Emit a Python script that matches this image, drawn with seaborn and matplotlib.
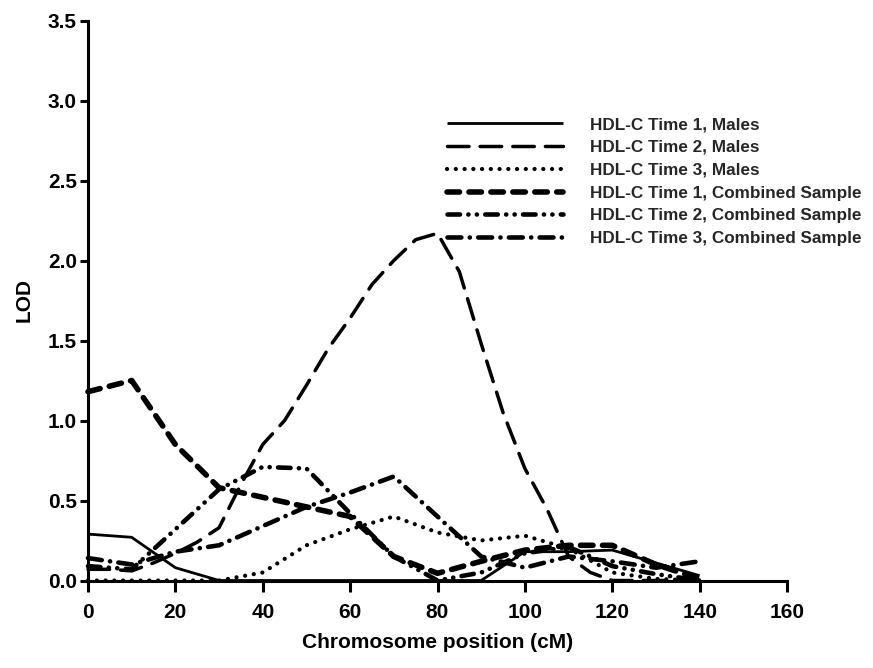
# LOD score profiles along the chromosome
import matplotlib
matplotlib.use("Agg")
import matplotlib.pyplot as plt
import seaborn as sns

# Data
positions = [0, 10, 20, 30, 40, 50, 60, 70, 80, 90, 100, 110, 120, 130, 140]
time2_males_positions = [0, 5, 10, 15, 20, 25, 30, 35, 40, 45, 50, 55, 60, 65, 70,
                         75, 80, 85, 90, 95, 100, 105, 110, 115, 120, 130, 140]

time1_males = [0.29, 0.27, 0.08, 0.0, 0.0, 0.0, 0.0, 0.0, 0.0, 0.0, 0.18, 0.18, 0.19, 0.11, 0.03]
time2_males = [0.07, 0.07, 0.06, 0.11, 0.17, 0.24, 0.33, 0.6, 0.85, 1.0, 1.22, 1.45, 1.64, 1.85, 2.0,
               2.13, 2.17, 1.93, 1.48, 1.05, 0.7, 0.45, 0.15, 0.05, 0.0, 0.0, 0.0]
time3_males = [0.0, 0.0, 0.0, 0.0, 0.05, 0.22, 0.32, 0.4, 0.3, 0.25, 0.28, 0.2, 0.05, 0.01, 0.0]
time1_combined = [1.18, 1.25, 0.85, 0.58, 0.52, 0.46, 0.4, 0.15, 0.045, 0.12, 0.19, 0.22, 0.22, 0.1, 0.01]
time2_combined = [0.09, 0.07, 0.32, 0.57, 0.71, 0.7, 0.42, 0.15, 0.0, 0.05, 0.17, 0.21, 0.09, 0.04, 0.0]
time3_combined = [0.14, 0.1, 0.18, 0.22, 0.34, 0.46, 0.55, 0.65, 0.4, 0.15, 0.08, 0.15, 0.12, 0.08, 0.12]

labels = [
    "HDL-C Time 1, Males",
    "HDL-C Time 2, Males",
    "HDL-C Time 3, Males",
    "HDL-C Time 1, Combined Sample",
    "HDL-C Time 2, Combined Sample",
    "HDL-C Time 3, Combined Sample",
]

x_ticks = [0, 20, 40, 60, 80, 100, 120, 140, 160]
y_ticks = [0.0, 0.5, 1.0, 1.5, 2.0, 2.5, 3.0, 3.5]

# Styles: (linewidth, linestyle)
STYLES = [
    (2.0, "-"),
    (2.5, (0, (15.5, 8.0))),
    (3.0, (0, (0.1, 6.2))),
    (4.0, (0, (9.0, 6.8))),
    (3.3, (0, (9.0, 6.0, 0.1, 6.0, 0.1, 6.0))),
    (3.3, (0, (10.0, 6.0, 0.1, 6.0))),
]

sns.set_theme(style="ticks")
plt.rcParams["font.family"] = ["Liberation Sans", "DejaVu Sans"]
plt.rcParams["font.weight"] = "bold"
plt.rcParams["lines.scale_dashes"] = False

fig = plt.figure(figsize=(8.73, 6.68), dpi=100)
ax = fig.add_axes([88 / 873, 1 - 580.5 / 668, (787 - 88) / 873, (580.5 - 20.5) / 668])

series = [
    (positions, time1_males),
    (time2_males_positions, time2_males),
    (positions, time3_males),
    (positions, time1_combined),
    (positions, time2_combined),
    (positions, time3_combined),
]

for (xs, ys), label, (lw, ls) in zip(series, labels, STYLES):
    sns.lineplot(x=xs, y=ys, ax=ax, color="black", linewidth=lw, linestyle=ls,
                 dash_capstyle="round", solid_capstyle="butt", label=label,
                 errorbar=None, clip_on=False, legend=False)

ax.set_xlim(0, 160)
ax.set_ylim(0, 3.5)
ax.set_xticks(x_ticks)
ax.set_yticks(y_ticks)
ax.set_yticklabels([f"{v:.1f}" for v in y_ticks])
sns.despine(ax=ax)
for side in ["left", "bottom"]:
    ax.spines[side].set_linewidth(2.2)
    ax.spines[side].set_color("black")
ax.tick_params(axis="both", direction="out", width=2.2, color="black",
               labelsize=15, labelcolor="black")
ax.tick_params(axis="x", length=8, pad=8)
ax.tick_params(axis="y", length=6, pad=2)
for t in ax.get_xticklabels() + ax.get_yticklabels():
    t.set_fontweight("bold")

ax.set_xlabel("Chromosome position (cM)", fontsize=15, fontweight="bold", color="black", labelpad=8)
ax.set_ylabel("LOD", fontsize=15, fontweight="bold", color="black", labelpad=10)

handles, _ = ax.get_legend_handles_labels()
legend = ax.legend(handles, labels, loc="upper left",
                   bbox_to_anchor=(447 / 873, 1 - 117 / 668), bbox_transform=fig.transFigure,
                   frameon=False, borderpad=0, borderaxespad=0,
                   handlelength=6.8, handletextpad=1.6, labelspacing=0.46,
                   prop={"size": 12.3, "weight": "bold"})

fig.savefig("out.png", dpi=100, facecolor="white")
